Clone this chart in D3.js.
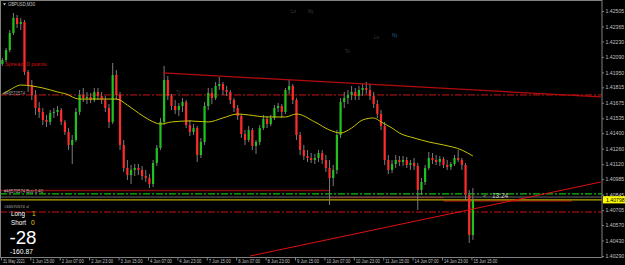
<!DOCTYPE html>
<html>
<head>
<meta charset="utf-8">
<script src="https://cdn.jsdelivr.net/npm/d3@7"></script>
<style>
  html, body { margin: 0; padding: 0; background: #000; }
  svg { display: block; }
  text { font-family: "Liberation Sans", Arial, sans-serif; }
</style>
</head>
<body>
<svg id="chart" width="625" height="265"></svg>
<script>
// GBPUSD M30, each entry here = one 2 hour block
var firstOpen = 1.42026;
var closes = [1.42062,1.42152,1.42306,1.42442,1.42387,1.42406,1.41954,1.41836,1.41746,1.41628,
  1.41592,1.41520,1.41502,1.41583,1.41592,1.41610,1.41502,1.41411,1.41294,1.41339,
  1.41592,1.41746,1.41718,1.41728,1.41700,1.41773,1.41737,1.41700,1.41628,1.41502,
  1.41926,1.41746,1.41294,1.41086,1.41022,1.41068,1.41086,1.41068,1.41013,1.40995,
  1.40941,1.41131,1.41267,1.41502,1.41881,1.41737,1.41646,1.41610,1.41646,1.41682,
  1.41474,1.41411,1.41447,1.41203,1.41321,1.41646,1.41764,1.41718,1.41827,1.41845,
  1.41791,1.41773,1.41700,1.41628,1.41556,1.41393,1.41339,1.41429,1.41285,1.41321,
  1.41447,1.41529,1.41483,1.41538,1.41628,1.41646,1.41592,1.41791,1.41827,1.41700,
  1.41384,1.41248,1.41194,1.41176,1.41158,1.41176,1.41221,1.41158,1.41086,1.40995,
  1.41068,1.41384,1.41682,1.41718,1.41746,1.41773,1.41737,1.41791,1.41809,1.41791,
  1.41737,1.41664,1.41574,1.41465,1.41158,1.41068,1.41122,1.41158,1.41140,1.41158,
  1.41113,1.41131,1.41104,1.40887,1.40959,1.41086,1.41176,1.41158,1.41140,1.41167,
  1.41113,1.41095,1.41122,1.41176,1.41158,1.41113,1.40842,1.40480,1.40796];
var highs = [1.42080,1.42171,1.42333,1.42487,1.42469,1.42442,1.42424,1.41972,1.41881,1.41791,
  1.41682,1.41628,1.41565,1.41610,1.41628,1.41646,1.41628,1.41520,1.41447,1.41384,
  1.41628,1.41791,1.41809,1.41773,1.41764,1.41809,1.41809,1.41773,1.41737,1.41664,
  1.42035,1.41972,1.41773,1.41339,1.41158,1.41113,1.41122,1.41122,1.41104,1.41068,
  1.41031,1.41158,1.41294,1.41538,1.42008,1.41917,1.41755,1.41700,1.41673,1.41718,
  1.41700,1.41520,1.41483,1.41465,1.41357,1.41682,1.41809,1.41809,1.41863,1.41908,
  1.41863,1.41827,1.41791,1.41718,1.41655,1.41574,1.41429,1.41465,1.41447,1.41339,
  1.41474,1.41565,1.41556,1.41565,1.41655,1.41673,1.41664,1.41809,1.41881,1.41845,
  1.41718,1.41411,1.41294,1.41248,1.41221,1.41212,1.41248,1.41248,1.41203,1.41158,
  1.41113,1.41429,1.41718,1.41773,1.41791,1.41827,1.41809,1.41827,1.41845,1.41863,
  1.41845,1.41773,1.41700,1.41610,1.41502,1.41203,1.41158,1.41203,1.41194,1.41194,
  1.41185,1.41158,1.41176,1.41131,1.40995,1.41113,1.41230,1.41221,1.41203,1.41194,
  1.41185,1.41158,1.41140,1.41203,1.41248,1.41176,1.41131,1.40887,1.40905];
var lows = [1.42008,1.42044,1.42134,1.42288,1.42351,1.42333,1.41926,1.41773,1.41700,1.41565,
  1.41538,1.41474,1.41456,1.41474,1.41538,1.41556,1.41474,1.41384,1.41248,1.41122,
  1.41321,1.41565,1.41682,1.41664,1.41673,1.41682,1.41700,1.41664,1.41592,1.41447,
  1.41483,1.41700,1.41248,1.41050,1.40977,1.40941,1.41013,1.41022,1.40977,1.40959,
  1.40905,1.40914,1.41104,1.41248,1.41474,1.41700,1.41610,1.41574,1.41556,1.41592,
  1.41447,1.41375,1.41384,1.41140,1.41176,1.41294,1.41610,1.41664,1.41700,1.41791,
  1.41746,1.41737,1.41664,1.41592,1.41520,1.41357,1.41294,1.41321,1.41248,1.41212,
  1.41294,1.41429,1.41447,1.41465,1.41520,1.41592,1.41538,1.41574,1.41755,1.41664,
  1.41339,1.41203,1.41158,1.41140,1.41131,1.41122,1.41140,1.41122,1.41050,1.40751,
  1.40923,1.41031,1.41357,1.41628,1.41664,1.41700,1.41700,1.41700,1.41737,1.41755,
  1.41700,1.41628,1.41538,1.41429,1.41113,1.41031,1.41040,1.41086,1.41104,1.41104,
  1.41086,1.41068,1.41068,1.40706,1.40842,1.40932,1.41068,1.41122,1.41113,1.41104,
  1.41086,1.41068,1.41068,1.41104,1.41140,1.41068,1.40796,1.40408,1.40435];

// moving average (yellow), sampled at block positions
var maIndex = [0,2,5,8,11,15,18,19,21,27,31,34,37,40,43,46,51,56,60,64,67,72,77,80,85,89,92,95,98,101,103,106,108,112,116,120,125,128];
var maValues = [1.41755,1.41791,1.41836,1.41827,1.41809,1.41773,1.41746,1.41728,1.41709,1.41709,
  1.41709,1.41655,1.41583,1.41520,1.41483,1.41502,1.41511,1.41502,1.41538,1.41574,
  1.41565,1.41547,1.41547,1.41574,1.41502,1.41429,1.41402,1.41447,1.41520,1.41538,
  1.41502,1.41447,1.41402,1.41357,1.41321,1.41294,1.41248,1.41194];

var timeLabels = ["31 May 2021","1 Jun 15:00","2 Jun 07:00","2 Jun 23:00","3 Jun 15:00","4 Jun 07:00",
  "4 Jun 23:00","7 Jun 15:00","8 Jun 07:00","8 Jun 23:00","9 Jun 15:00","10 Jun 07:00",
  "10 Jun 23:00","11 Jun 15:00","14 Jun 07:00","14 Jun 23:00","15 Jun 15:00"];
var priceTicks = [1.42505,1.42365,1.42230,1.42090,1.41950,1.41815,1.41675,1.41535,1.41400,
  1.41260,1.41120,1.40985,1.40845,1.40705,1.40570,1.40430,1.40290];

var currentPrice = 1.40798;
var bidPrice = 1.40823;
var tpPrice = 1.41746;
var entryPrice = 1.40851;
var slPrice = 1.40688;
// [from block, to block, price]
var stopSegments = [[-1, 89, 1.40882], [89, 120, 1.40819], [120, 155, 1.40787]];
var topTrend = [[43.7, 1.41945], [162.8, 1.41728]];
var bottomTrend = [[67.4, 1.40290], [162.8, 1.40959]];

var svg = d3.select("#chart"),
    plotRight = 602,
    plotBottom = 257.5;

svg.append("rect").attr("width", 625).attr("height", 265).attr("fill", "#000");

var x = d3.scaleLinear().domain([0, closes.length - 1]).range([2.4, 472.9]),
    y = d3.scaleLinear().domain([1.40290, 1.42505]).range([256, 11]);

svg.append("clipPath").attr("id", "plot")
  .append("rect").attr("x", 0).attr("y", 0).attr("width", plotRight).attr("height", plotBottom);

var g = svg.append("g").attr("clip-path", "url(#plot)");

function hline(price, color, dash, width, x0, x1) {
  g.append("line")
    .attr("x1", x0 === undefined ? 0 : x(x0)).attr("x2", x1 === undefined ? plotRight : x(x1))
    .attr("y1", y(price)).attr("y2", y(price))
    .attr("stroke", color).attr("stroke-width", width || 1)
    .attr("stroke-dasharray", dash || null);
}

// trade levels
hline(tpPrice, "#c81414", "7,2,2,2", 1);
stopSegments.forEach(function(s) { hline(s[2], "#8a0a0a", null, 1.6, s[0], s[1]); });
hline(entryPrice, "#10c010", "7,2,2,2", 1.2);
hline(bidPrice, "#6a6a6a", null, 1);
hline(currentPrice, "#b8a800", null, 1.2);
hline(slPrice, "#d01010", "7,2,2,2", 1.2);

// candles
var candles = closes.map(function(c, i) {
  return {i: i, o: i ? closes[i - 1] : firstOpen, h: highs[i], l: lows[i], c: c};
});

g.selectAll(".wick")
  .data(candles)
  .enter().append("line")
    .attr("class", "wick")
    .attr("x1", function(d) { return x(d.i); })
    .attr("x2", function(d) { return x(d.i); })
    .attr("y1", function(d) { return y(Math.max(d.h, d.o, d.c)); })
    .attr("y2", function(d) { return y(Math.min(d.l, d.o, d.c)); })
    .attr("stroke", "#7c7c7c")
    .attr("stroke-width", 1);

g.selectAll(".body")
  .data(candles)
  .enter().append("rect")
    .attr("class", "body")
    .attr("x", function(d) { return x(d.i) - 1.1; })
    .attr("width", 2.2)
    .attr("y", function(d) { return y(Math.max(d.o, d.c)); })
    .attr("height", function(d) { return Math.max(1, Math.abs(y(d.o) - y(d.c))); })
    .attr("fill", function(d) { return d.c >= d.o ? "#1fc21f" : "#ff2b2b"; });

// moving average
var ma = d3.line()
  .x(function(d, i) { return x(maIndex[i]); })
  .y(function(d) { return y(d); })
  .curve(d3.curveMonotoneX);

g.append("path")
  .datum(maValues)
  .attr("d", ma)
  .attr("fill", "none")
  .attr("stroke", "#c8c400")
  .attr("stroke-width", 1);

// trendlines
function trend(pts, color, width) {
  g.append("line")
    .attr("x1", x(pts[0][0])).attr("y1", y(pts[0][1]))
    .attr("x2", x(pts[1][0])).attr("y2", y(pts[1][1]))
    .attr("stroke", color).attr("stroke-width", width);
}
trend(topTrend, "#b40c0c", 1.2);
trend(bottomTrend, "#e01010", 1);

// frame
svg.append("rect")
  .attr("x", 0.5).attr("y", 0.5)
  .attr("width", plotRight - 0.5).attr("height", plotBottom - 0.5)
  .attr("fill", "none").attr("stroke", "#808080").attr("stroke-width", 1);

// time axis
var tickIdx = timeLabels.map(function(d, i) { return -0.4 + 8 * i; });
var xAxis = svg.append("g")
  .attr("transform", "translate(0," + plotBottom + ")")
  .call(d3.axisBottom(x).tickValues(tickIdx).tickSize(3).tickSizeOuter(0)
    .tickFormat(function(d, i) { return timeLabels[i]; }));
xAxis.select(".domain").remove();
xAxis.selectAll("line").attr("stroke", "#808080");
xAxis.selectAll("text")
  .attr("text-anchor", "start").attr("x", 1.5).attr("y", 2.4)
  .attr("fill", "#c0c0c0").style("font-size", "4.8px")
  .style("font-family", "'Liberation Sans', Arial, sans-serif")
  .attr("textLength", function(d, i) { return timeLabels[i].length > 11 ? 24 : 22; })
  .attr("lengthAdjust", "spacingAndGlyphs");

// price axis
var yAxis = svg.append("g")
  .attr("transform", "translate(" + plotRight + ",0)")
  .call(d3.axisRight(y).tickValues(priceTicks).tickSize(2).tickSizeOuter(0)
    .tickFormat(d3.format(".5f")));
yAxis.select(".domain").remove();
yAxis.selectAll("line").attr("stroke", "#808080");
yAxis.selectAll("text")
  .attr("x", 3.5).attr("fill", "#c0c0c0").style("font-size", "5.2px")
  .style("font-family", "'Liberation Sans', Arial, sans-serif");

// current price tag
svg.append("rect")
  .attr("x", plotRight + 1).attr("y", y(currentPrice) - 3.6)
  .attr("width", 22).attr("height", 7.2).attr("fill", "#ffff00");
svg.append("text")
  .attr("x", plotRight + 4).attr("y", y(currentPrice) + 1.9)
  .attr("fill", "#000").style("font-size", "5.2px")
  .text(d3.format(".5f")(currentPrice));

// labels
function label(tx, ty, str, size, color, len) {
  var t = svg.append("text").attr("x", tx).attr("y", ty)
    .attr("fill", color).style("font-size", size + "px").text(str);
  if (len) t.attr("textLength", len).attr("lengthAdjust", "spacingAndGlyphs");
  return t;
}

svg.append("path").attr("d", "M3,3.2 L6,3.2 L4.5,5.4 Z").attr("fill", "#c8c8c8");
label(8, 6.2, "GBPUSD,M30", 5, "#c8c8c8", 27);
label(5, 65.5, "Spread: 0 points.", 6.2, "#d01010", 43);
label(4, 94.5, "#46570574", 4.6, "#9a9a9a", 21);
label(4, 193, "#46570574 Buy 0.40", 4.6, "#b0b0b0", 39);
label(4, 208.2, "#46570574 sl", 4.4, "#b0b0b0", 25);

label(11, 216, "Long", 6.5, "#ffffff", 14);
label(32, 216, "1", 6.5, "#f0d000");
label(11, 224.8, "Short", 6.5, "#ffffff", 15);
label(31, 224.8, "0", 6.5, "#f0d000");
label(9.5, 244, "-28", 19, "#ffffff", 27);
label(10, 253.5, "-160.87", 6.8, "#ffffff", 23);

label(483, 198.2, "<", 6, "#b0b0b0");
label(492, 198.2, "13:24", 6.5, "#d0d0d0", 16);

// session markers
label(291, 12.5, "Ln", 4.5, "#3c3c3c");
label(308, 12.5, "Ny", 4.5, "#3c3c3c");
label(345, 53, "To", 4.5, "#3c3c3c");
label(374, 38.5, "Ln", 4.5, "#3c3c3c");
label(392, 36.5, "Ny", 4.5, "#2a5f90");
label(176, 93.5, "Ty", 4.5, "#3c3c3c");
</script>
</body>
</html>
